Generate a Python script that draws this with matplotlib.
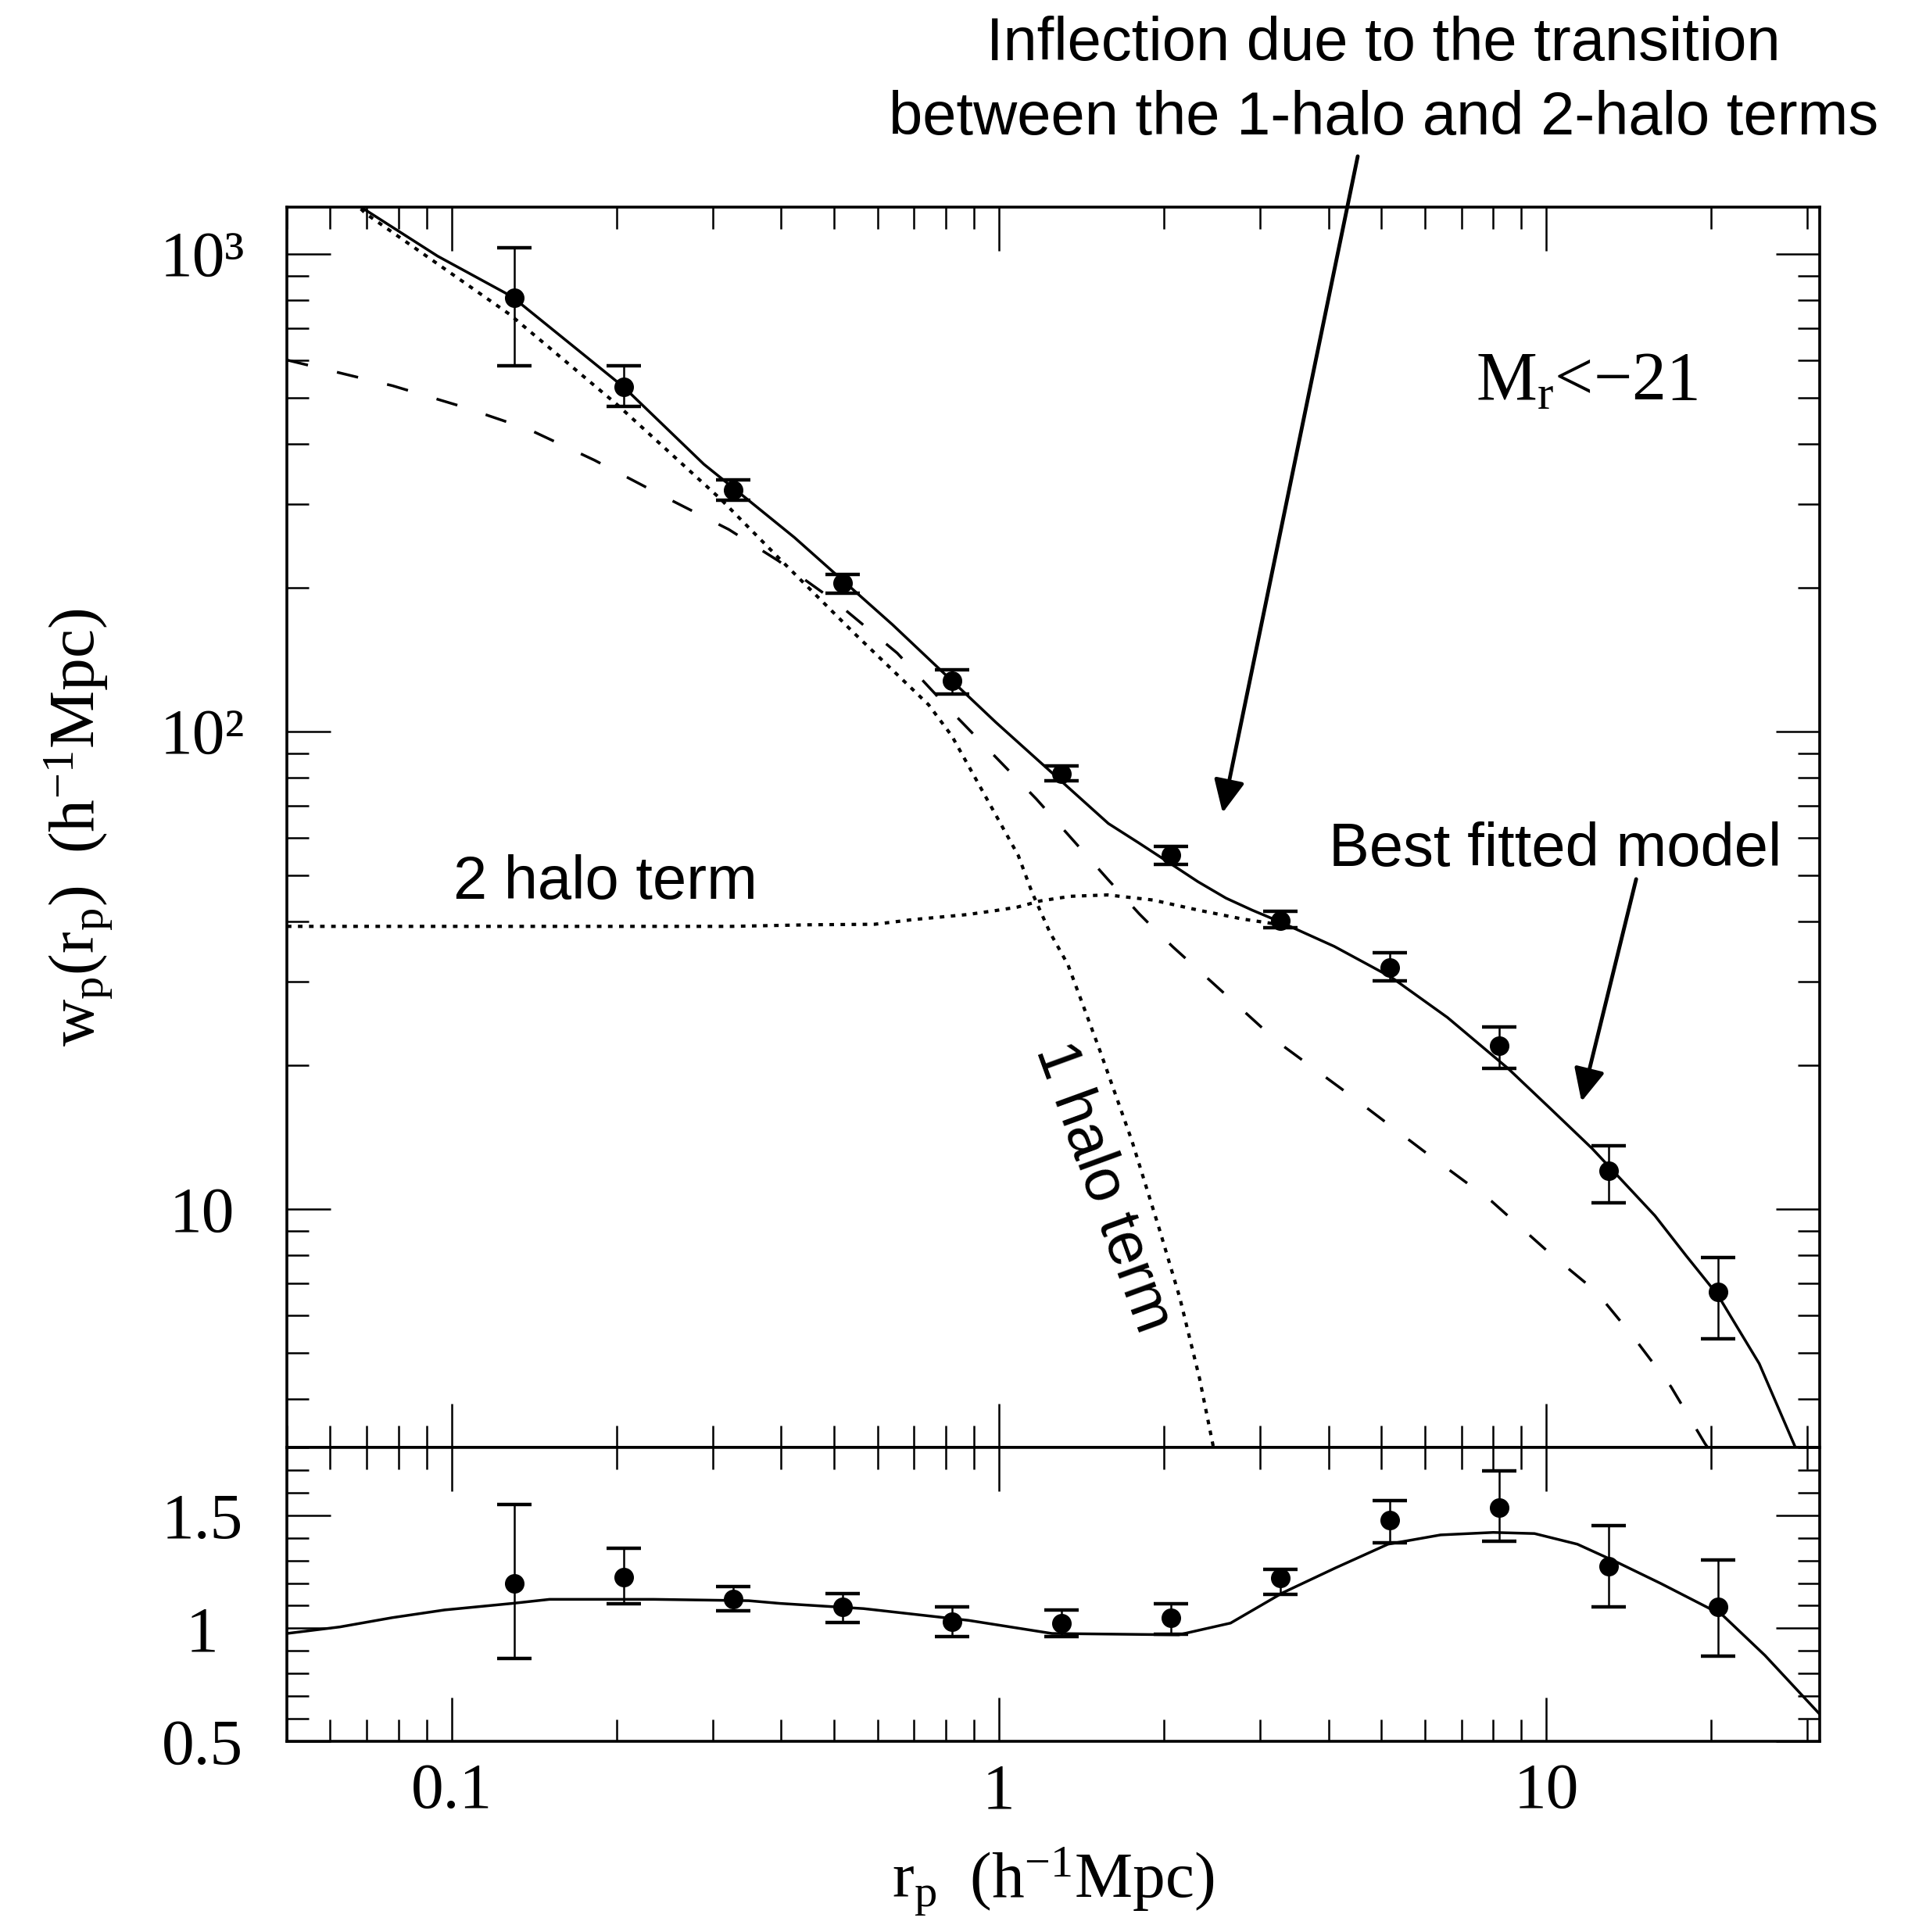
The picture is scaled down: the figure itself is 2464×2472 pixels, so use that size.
import matplotlib
matplotlib.use("Agg")
import matplotlib.pyplot as plt
from matplotlib.ticker import FixedLocator, FixedFormatter, LogLocator, MultipleLocator, NullFormatter

# ---- data ----
rp = [0.130, 0.206, 0.327, 0.518, 0.820, 1.30, 2.06, 3.27, 5.18, 8.20, 13.0, 20.6]
wp = [809, 527, 321, 205, 128, 81.5, 55.2, 40.2, 32.0, 22.0, 12.05, 6.72]
wp_lo = [584, 479, 305, 195, 120, 79.0, 52.8, 38.8, 30.1, 19.7, 10.3, 5.35]
wp_hi = [1029, 584, 336, 213, 134.5, 84.6, 57.4, 42.1, 34.4, 24.1, 13.6, 7.91]

ratio = [1.198, 1.227, 1.128, 1.093, 1.029, 1.023, 1.047, 1.221, 1.477, 1.535, 1.273, 1.093]
ratio_lo = [0.866, 1.11, 1.076, 1.026, 0.965, 0.965, 0.974, 1.151, 1.378, 1.384, 1.093, 0.878]
ratio_hi = [1.547, 1.355, 1.186, 1.153, 1.095, 1.081, 1.11, 1.262, 1.564, 1.698, 1.453, 1.302]

# best fitted model (solid)
fit_r = [0.0675, 0.0943, 0.1288, 0.2065, 0.289, 0.328, 0.423, 0.639, 0.987, 1.585, 1.8, 2.08, 2.31,
         2.6, 2.9, 3.24, 4.1, 5.21, 6.6, 8.52, 10.2, 12.13, 15.8, 18.0, 20.6, 24.5, 28.7]
fit_wp = [1265, 990, 815, 526, 363, 323, 255, 167.5, 104.6, 64.2, 58.5, 52.5, 48.5,
          44.8, 42.3, 40.1, 35.5, 30.6, 25.2, 19.7, 16.2, 13.4, 9.69, 8.0, 6.6, 4.75, 3.12]

# 1-halo term (dotted)
oneh_r = [0.066, 0.0697, 0.1276, 0.201, 0.31, 0.396, 0.54, 0.744, 0.82, 0.898, 1.085, 1.15, 1.239,
          1.337, 1.529, 1.75, 1.967, 2.14, 2.326, 2.466, 2.5]
oneh_wp = [1290, 1215, 748, 483, 307, 231, 162, 113.8, 98, 81.3, 55, 46, 38,
           32.5, 21.5, 13.9, 9.03, 6.53, 4.42, 3.17, 3.0]

# 2-halo term (dotted)
twoh_r = [0.05, 0.325, 0.45, 0.593, 0.697, 0.877, 0.987, 1.08, 1.19, 1.35, 1.58, 1.91, 2.31, 2.79, 3.18, 3.4]
twoh_wp = [39.1, 39.1, 39.4, 39.5, 40.4, 41.4, 42.2, 42.9, 44.2, 45.2, 45.5, 44.4, 42.3, 40.5, 39.6, 38.9]

# dashed model
dash_r = [0.05, 0.078, 0.104, 0.138, 0.1825, 0.2425, 0.321, 0.395, 0.5, 0.652, 0.833, 0.987, 1.17,
          1.387, 1.58, 1.806, 1.95, 2.08, 2.48, 3.23, 4.36, 5.99, 7.94, 10.17, 12.34, 14.45, 16.9, 19.5, 20.0]
dash_wp = [600, 530, 480, 430, 370, 312, 265, 228, 188, 146, 108, 88.4, 72.3,
           58.1, 49.1, 41.5, 38.0, 35.4, 29.5, 22.4, 17.4, 13.2, 10.4, 8.07, 6.72, 5.39, 4.25, 3.23, 3.1]

# ratio panel model
rat_r = [0.05, 0.0625, 0.0779, 0.097, 0.129, 0.151, 0.234, 0.349, 0.398, 0.566, 0.88, 1.25, 2.13,
         2.65, 3.30, 4.12, 5.14, 6.41, 8.0, 9.52, 11.4, 13.5, 16.2, 21.0, 25.1, 31.6]
rat_v = [0.977, 1.006, 1.047, 1.081, 1.11, 1.128, 1.128, 1.122, 1.11, 1.087, 1.035, 0.977, 0.971,
         1.023, 1.157, 1.267, 1.372, 1.413, 1.424, 1.419, 1.372, 1.291, 1.198, 1.058, 0.88, 0.62]

x_ticks = [0.1, 1, 10]
x_labels = ["0.1", "1", "10"]
y_ticks = [10, 100, 1000]
y_labels = ["10", "10²", "10³"]
r_ticks = [0.5, 1.0, 1.5]
r_labels = ["0.5", "1", "1.5"]

# ---- style ----
plt.rcParams["font.family"] = ["Liberation Serif", "DejaVu Serif"]
plt.rcParams["mathtext.fontset"] = "custom"
plt.rcParams["mathtext.rm"] = "Liberation Serif"
plt.rcParams["mathtext.it"] = "Liberation Serif:italic"

W, H = 2464, 2472
fig = plt.figure(figsize=(W / 100, H / 100), dpi=100)


def fx(px):
    return px / W


def fy(py):
    return 1 - py / H


L, R, T, M, B = 367, 2328, 265, 1852, 2228
ax1 = fig.add_axes([fx(L), fy(M), (R - L) / W, (M - T) / H])
ax2 = fig.add_axes([fx(L), fy(B), (R - L) / W, (B - M) / H], sharex=ax1)

k = "black"
# top panel curves
ax1.plot(fit_r, fit_wp, color=k, lw=2.5)
ax1.plot(dash_r, dash_wp, color=k, lw=2.5, linestyle=(0, (8, 11)))
ax1.plot(oneh_r, oneh_wp, color=k, lw=3, linestyle=(0, (1.4, 2.0)))
ax1.plot(twoh_r, twoh_wp, color=k, lw=3, linestyle=(0, (1.4, 2.0)))

err_up = [h - v for h, v in zip(wp_hi, wp)]
err_dn = [v - l for v, l in zip(wp, wp_lo)]
ax1.errorbar(rp, wp, yerr=[err_dn, err_up], fmt="o", color=k, ms=17,
             elinewidth=1.8, capsize=16, capthick=3.2)

ax1.set_xscale("log")
ax1.set_yscale("log")
ax1.set_xlim(0.05, 31.6)
ax1.set_ylim(3.17, 1254)
ax1.yaxis.set_major_locator(FixedLocator(y_ticks))
ax1.yaxis.set_major_formatter(FixedFormatter(y_labels))
ax1.yaxis.set_minor_locator(LogLocator(base=10, subs=range(2, 10)))
ax1.yaxis.set_minor_formatter(NullFormatter())
ax1.xaxis.set_major_locator(FixedLocator(x_ticks))
ax1.xaxis.set_major_formatter(FixedFormatter(x_labels))
ax1.xaxis.set_minor_locator(LogLocator(base=10, subs=range(2, 10)))
ax1.xaxis.set_minor_formatter(NullFormatter())

# bottom panel
ax2.plot(rat_r, rat_v, color=k, lw=2.5)
r_up = [h - v for h, v in zip(ratio_hi, ratio)]
r_dn = [v - l for v, l in zip(ratio, ratio_lo)]
ax2.errorbar(rp, ratio, yerr=[r_dn, r_up], fmt="o", color=k, ms=17,
             elinewidth=1.8, capsize=16, capthick=3.2)
ax2.set_ylim(0.5, 1.8)
ax2.yaxis.set_major_locator(FixedLocator(r_ticks))
ax2.yaxis.set_major_formatter(FixedFormatter(r_labels))
ax2.yaxis.set_minor_locator(MultipleLocator(0.1))

for ax in (ax1, ax2):
    ax.tick_params(which="both", direction="in", top=True, right=True, width=1.8, color=k)
    ax.tick_params(which="major", length=40)
    ax.tick_params(which="minor", length=20)
    ax.tick_params(axis="y", which="major", pad=78, labelsize=60)
    ax.tick_params(axis="x", which="major", pad=20, labelsize=60)
    for lab in ax.get_yticklabels():
        lab.set_horizontalalignment("center")
    for sp in ax.spines.values():
        sp.set_linewidth(2.6)
ax1.tick_params(labelbottom=False)

ax1.set_ylabel(r"$\mathrm{w_p(r_p)\ \ (h^{-1}Mpc)}$", fontsize=60, va="center")
ax1.yaxis.set_label_coords((100 - L) / (R - L), 0.5)
ax2.set_xlabel(r"$\mathrm{r_p\ \ (h^{-1}Mpc)}$", fontsize=60, va="center")
ax2.xaxis.set_label_coords(0.5, (B - 2407) / (B - M))

fig.text(fx(2030), fy(512), r"$\mathrm{M_r}$<$-$21", fontsize=63, ha="center", va="baseline")

# annotations
sans = ["Liberation Sans", "DejaVu Sans"]
fig.text(fx(1770), fy(77), "Inflection due to the transition", family=sans, fontsize=56,
         ha="center", va="baseline")
fig.text(fx(1770), fy(172), "between the 1-halo and 2-halo terms", family=sans, fontsize=56,
         ha="center", va="baseline")
fig.text(fx(1990), fy(1108), "Best fitted model", family=sans, fontsize=56, ha="center", va="baseline")
fig.text(fx(774), fy(1150), "2 halo term", family=sans, fontsize=56, ha="center", va="baseline")
fig.text(fx(1411), fy(1519), "1 halo term", family=sans, fontsize=56, ha="center", va="center",
         rotation=-70, rotation_mode="anchor")

arrow = dict(arrowstyle="-|>,head_length=0.85,head_width=0.4", mutation_scale=30,
             lw=3.5, color=k, shrinkA=0, shrinkB=0)
ax1.annotate("", xy=(2.563, 67.6), xycoords="data", xytext=(fx(1737), fy(200)),
             textcoords="figure fraction", arrowprops=arrow, annotation_clip=False)
ax1.annotate("", xy=(11.6, 16.8), xycoords="data", xytext=(14.6, 49.1),
             textcoords="data", arrowprops=arrow, annotation_clip=False)

fig.savefig("out.png", dpi=100)
